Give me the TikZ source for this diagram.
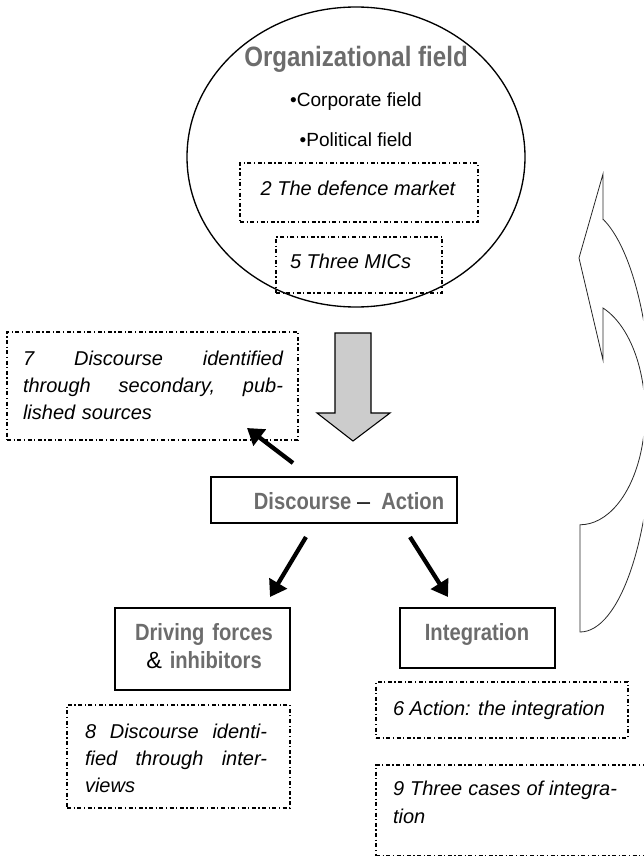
\documentclass[tikz,border=0pt]{standalone}
\usepackage{fontspec}
\setmainfont{Liberation Sans}
\newfontfamily\titlefont{Liberation Sans}[FakeStretch=0.86]
\usetikzlibrary{arrows.meta,shapes.geometric}
\definecolor{titlegray}{RGB}{108,108,108}
\definecolor{blockfill}{RGB}{204,204,204}
\definecolor{outline}{RGB}{40,40,40}

\tikzset{
  every node/.style={inner sep=0pt, outer sep=0pt},
  heading/.style={font=\titlefont\bfseries\fontsize{17.6}{21}\selectfont, text=titlegray},
  bighead/.style={font=\titlefont\bfseries\fontsize{21}{25}\selectfont, text=titlegray},
  bullettext/.style={font=\fontsize{14.3}{17}\selectfont},
  notetext/.style={font=\itshape\fontsize{15}{20.6}\selectfont},
  solidbox/.style={draw, line width=1.2pt, anchor=north west},
  notebox/.style={draw, line width=0.8pt, anchor=north west,
    dash pattern=on 3pt off 1.9pt on 0.9pt off 1.9pt},
  pointer/.style={line width=3.2pt, -{Triangle[length=12pt,width=15pt]}},
  blockarrow/.style={draw=black, line width=0.8pt, fill=blockfill, line join=miter},
  curvearrow/.style={draw=outline, line width=0.6pt, fill=white},
}

\begin{document}
\begin{tikzpicture}[x=0.75pt,y=-0.75pt]
\useasboundingbox (0,0) rectangle (643,856);

% organizational field
\node[draw, ellipse, line width=1pt, minimum width=253.5pt, minimum height=225pt] (field) at (356,157) {};
\node[bighead, anchor=base] (fieldtitle) at (356,67) {Organizational field};
\node[bullettext, anchor=base] (corp) at (356,106) {•Corporate field};
\node[bullettext, anchor=base] (pol) at (356,146) {•Political field};

\node[notebox, minimum width=178.5pt, minimum height=44.25pt] (box2) at (240,163) {};
\node[notetext, anchor=base] (t2) at (358,195) {2 The defence market};
\node[notebox, minimum width=124.5pt, minimum height=42pt] (box5) at (276,237) {};
\node[notetext, anchor=base west] (t5) at (290,268) {5 Three MICs};

% secondary sources
\node[notebox, minimum width=218.25pt, minimum height=81pt] (box7) at (7,332) {};
\node[notetext, anchor=base west, text width=195pt] (t7) at (23,365)
  {7\hfill Discourse\hfill identified\\through\hfill secondary,\hfill pub-\\lished sources};

% flow from the field down to discourse and action
\draw[blockarrow] (335,333) -- (371,333) -- (371,413) -- (390,413) -- (353,441)
  -- (317,413) -- (335,413) -- cycle;

\node[solidbox, minimum width=184.5pt, minimum height=34.5pt] (da) at (211,477) {};
\node[heading, anchor=base] (datext) at (349,509)
  {Discourse {\mdseries\fontspec{Liberation Sans}\color{black}–}\ \ Action};

\coordinate (p7s) at (293,463);
\coordinate (p7e) at (247,428);
\coordinate (pLs) at (306,537);
\coordinate (pLe) at (270,597);
\coordinate (pRs) at (410,537);
\coordinate (pRe) at (448,597);
\draw[pointer] (p7s) -- (p7e);
\draw[pointer] (pLs) -- (pLe);
\draw[pointer] (pRs) -- (pRe);

% driving forces and integration
\node[solidbox, minimum width=131.25pt, minimum height=61.5pt] (drive) at (115,608) {};
\node[heading, anchor=base, text width=150pt, align=center] (drivetext) at (204,640)
  {Driving forces\\{\mdseries\fontspec{Liberation Sans}\color{black}\&} inhibitors};
\node[solidbox, minimum width=116.25pt, minimum height=45pt] (integ) at (400,608) {};
\node[heading, anchor=base] (integtext) at (477,640) {Integration};

\node[notebox, minimum width=189pt, minimum height=42pt] (box6) at (376,682) {};
\node[notetext, anchor=base west] (t6) at (393,715) {6 Action: the integration};

\node[notebox, minimum width=167.25pt, minimum height=77.25pt] (box8) at (67,705) {};
\node[notetext, anchor=base west, text width=136.5pt,
      font=\itshape\fontsize{15}{20.25}\selectfont] (t8) at (85,738)
  {8\hfill Discourse\hfill identi-\\fied\hfill through\hfill inter-\\views};

\node[notebox, minimum width=217.5pt, minimum height=68.25pt] (box9) at (376,765) {};
\node[notetext, anchor=base west, text width=168pt,
      font=\itshape\fontsize{15}{21}\selectfont] (t9) at (393,795)
  {9\hfill Three\hfill cases\hfill of\hfill integra-\\tion};

% curved return arrow at the right edge
\begin{scope}
  \clip (0,0) rectangle (643,856);
  \draw[curvearrow] (603,220) -- (603,174) -- (579,258) -- (603,360) -- (603,308)
    arc[start angle=-69.3, end angle=90, x radius=65, y radius=112]
    -- (580,632)
    arc[start angle=90, end angle=-71.4, x radius=72, y radius=212]
    -- cycle;
\end{scope}
\end{tikzpicture}
\end{document}
